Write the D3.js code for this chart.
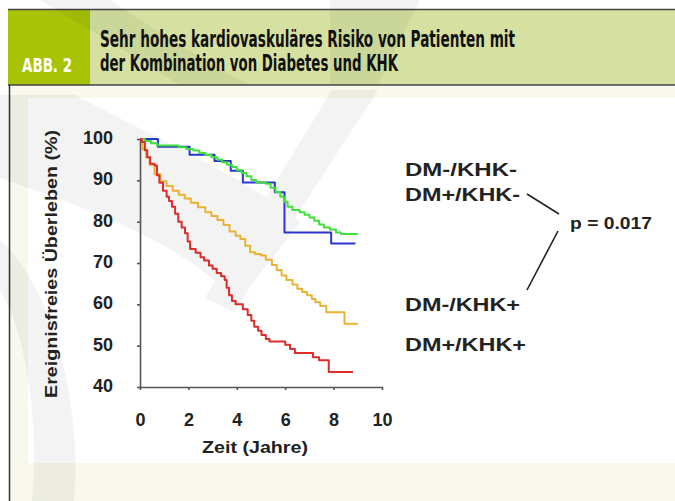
<!DOCTYPE html>
<html>
<head>
<meta charset="utf-8">
<script src="https://cdn.jsdelivr.net/npm/d3@7"></script>
<style>
  body { margin: 0; background: #fff; }
  svg { display: block; }
</style>
</head>
<body>
<svg id="fig" width="675" height="501"></svg>
<script>
// Kaplan-Meier Daten (Zeit in Jahren, ereignisfreies Überleben in %)
let blueT  = [0, 0.74, 2.05, 3.08, 3.75, 4.25, 5.57, 5.97, 7.9, 8.9];
let blueV  = [100, 98.1, 96.2, 94.7, 92.3, 89.5, 87.1, 77.4, 74.7, 74.7];

let greenT = [0, 0.2, 0.45, 0.7, 1.6, 1.9, 2.2, 2.45, 2.7, 2.95, 3.2, 3.4, 3.6, 3.8, 4.0, 4.2, 4.4, 4.6, 4.8, 5.2, 5.4, 5.6, 5.8, 5.95, 6.1, 6.3, 6.6, 6.8, 7.0, 7.2, 7.4, 7.6, 7.85, 8.1, 8.3, 9.0];
let greenV = [100, 99.5, 99.0, 98.4, 98.0, 97.6, 97.2, 96.6, 96.1, 95.6, 95.0, 94.4, 93.8, 93.2, 92.5, 91.8, 91.0, 90.1, 89.5, 89.2, 88.2, 87.2, 86.0, 84.8, 83.6, 82.8, 82.3, 81.7, 81.0, 80.2, 79.3, 78.6, 78.1, 77.4, 77.0, 77.0];

let orangeT = [0, 0.1, 0.25, 0.4, 0.6, 0.85, 1.1, 1.35, 1.6, 1.85, 2.1, 2.4, 2.7, 2.95, 3.2, 3.45, 3.7, 3.95, 4.15, 4.35, 4.55, 4.75, 5.0, 5.2, 5.45, 5.65, 5.85, 6.05, 6.3, 6.5, 6.7, 6.9, 7.1, 7.25, 7.45, 7.7, 8.45, 9.0];
let orangeV = [100, 97.5, 95.5, 93.8, 91.5, 89.8, 88.6, 87.5, 86.5, 85.6, 84.6, 83.5, 82.3, 81.4, 80.4, 79.2, 77.6, 76.6, 75.8, 74.2, 72.6, 72.2, 71.8, 70.8, 69.5, 68.3, 67.0, 65.9, 64.8, 63.8, 63.0, 62.2, 61.3, 60.5, 59.6, 58.1, 55.3, 55.3];

let redT = [0, 0.08, 0.2, 0.3, 0.42, 0.6, 0.7, 0.8, 0.95, 1.1, 1.2, 1.32, 1.45, 1.58, 1.72, 1.86, 1.97, 2.07, 2.3, 2.5, 2.65, 2.85, 3.0, 3.17, 3.35, 3.5, 3.58, 3.68, 3.8, 3.95, 4.25, 4.45, 4.6, 4.72, 4.88, 5.02, 5.2, 5.35, 6.0, 6.2, 6.4, 7.15, 7.4, 7.8, 8.8];
let redV = [100, 99.3, 97.3, 95.6, 94.0, 93.6, 91.2, 89.4, 87.5, 86.0, 85.0, 83.6, 81.9, 80.0, 78.6, 77.2, 75.2, 73.4, 72.5, 71.4, 70.6, 69.4, 68.6, 67.6, 66.8, 65.9, 64.0, 62.2, 60.8, 60.0, 58.8, 57.4, 56.0, 54.6, 53.6, 52.6, 51.6, 51.0, 50.2, 49.2, 48.2, 47.2, 46.5, 43.6, 43.6];

let xTicks = [0, 2, 4, 6, 8, 10];
let yTicks = [40, 50, 60, 70, 80, 90, 100];
let groupLabels = ["DM-/KHK-", "DM+/KHK-", "DM-/KHK+", "DM+/KHK+"];
let pLabel = "p = 0.017";

let series = [
  { t: blueT,   v: blueV,   color: "#2a35d0" },
  { t: greenT,  v: greenV,  color: "#3ee03a" },
  { t: orangeT, v: orangeV, color: "#e9b233" },
  { t: redT,    v: redV,    color: "#de2b2b" }
];

let svg = d3.select("#fig");
let txtFont = "'Liberation Sans', Arial, Helvetica, sans-serif";
let headFont = "'Liberation Sans Narrow', 'DejaVu Sans Condensed', 'Liberation Sans', sans-serif";

// Hintergrund und Rahmen
svg.append("rect").attr("x", 0).attr("y", 0).attr("width", 675).attr("height", 501).attr("fill", "#fff");
svg.append("rect").attr("x", 9).attr("y", 85).attr("width", 666).attr("height", 416).attr("fill", "#f8f9ec");
svg.append("rect").attr("x", 28).attr("y", 98).attr("width", 647).attr("height", 365).attr("fill", "#fff");

// Kopfzeile
svg.append("rect").attr("x", 8).attr("y", 10).attr("width", 667).attr("height", 75).attr("fill", "#d6e1a1");
svg.append("rect").attr("x", 8).attr("y", 10).attr("width", 82).attr("height", 75).attr("fill", "#a8c305");
svg.append("line").attr("x1", 8).attr("x2", 675).attr("y1", 9.5).attr("y2", 9.5).attr("stroke", "#444").attr("stroke-width", 1.5);
svg.append("line").attr("x1", 8).attr("x2", 675).attr("y1", 85).attr("y2", 85).attr("stroke", "#444").attr("stroke-width", 1.5);
svg.append("line").attr("x1", 9.5).attr("x2", 9.5).attr("y1", 85).attr("y2", 501).attr("stroke", "#333").attr("stroke-width", 1.5);

// Wasserzeichen (grob)
let wm = svg.append("g").attr("fill", "#000").attr("opacity", 0.045);
wm.append("path").attr("d", "M0,95 L75,95 C160,140 250,180 300,222 L236,305 C200,255 120,218 0,178 Z");
wm.append("path").attr("d", "M332,90 L378,90 L234,312 L205,298 Z");
wm.append("path").attr("d", "M0,240 C55,290 82,410 74,501 L32,501 C40,420 25,330 0,290 Z");
wm.append("path").attr("d", "M40,0 L110,0 C170,40 220,70 250,85 L180,85 C140,60 90,30 40,0 Z");
wm.append("path").attr("d", "M330,0 L420,0 L378,85 L330,85 Z");

// Titel
svg.append("text").attr("x", 22).attr("y", 72)
   .attr("font-family", headFont).attr("font-weight", "bold").attr("font-size", 20)
   .attr("fill", "#fff").attr("textLength", 50).attr("lengthAdjust", "spacingAndGlyphs")
   .text("ABB. 2");
svg.append("text").attr("x", 100).attr("y", 47)
   .attr("font-family", headFont).attr("font-weight", "bold").attr("font-size", 23)
   .attr("fill", "#111").attr("textLength", 415).attr("lengthAdjust", "spacingAndGlyphs")
   .text("Sehr hohes kardiovaskuläres Risiko von Patienten mit");
svg.append("text").attr("x", 100).attr("y", 71)
   .attr("font-family", headFont).attr("font-weight", "bold").attr("font-size", 23)
   .attr("fill", "#111").attr("textLength", 298).attr("lengthAdjust", "spacingAndGlyphs")
   .text("der Kombination von Diabetes und KHK");

// Skalen
let x = d3.scaleLinear().domain([0, 10]).range([140, 382]);
let y = d3.scaleLinear().domain([40, 100]).range([387, 139]);

let gx = svg.append("g").attr("transform", "translate(0,387)")
  .call(d3.axisBottom(x).tickValues(xTicks).tickSize(3).tickSizeOuter(0).tickPadding(23));
let gy = svg.append("g").attr("transform", "translate(140,0)")
  .call(d3.axisLeft(y).tickValues(yTicks).tickSize(3).tickSizeOuter(0).tickPadding(24));

[gx, gy].forEach(g => {
  g.select(".domain").attr("stroke", "#555").attr("stroke-width", 1.6);
  g.selectAll(".tick line").attr("stroke", "#555").attr("stroke-width", 1.6);
  g.selectAll("text").attr("font-family", txtFont).attr("font-weight", "bold")
    .attr("font-size", 18).attr("fill", "#222");
});
gy.selectAll(".tick text").attr("dy", "0.25em");

// Achsentitel
svg.append("text").attr("x", 255).attr("y", 453).attr("text-anchor", "middle")
   .attr("font-family", txtFont).attr("font-weight", "bold").attr("font-size", 17)
   .attr("fill", "#222").attr("textLength", 106).attr("lengthAdjust", "spacingAndGlyphs")
   .text("Zeit (Jahre)");
svg.append("text").attr("transform", "translate(57,264) rotate(-90)").attr("text-anchor", "middle")
   .attr("font-family", txtFont).attr("font-weight", "bold").attr("font-size", 17)
   .attr("fill", "#222").attr("textLength", 268).attr("lengthAdjust", "spacingAndGlyphs")
   .text("Ereignisfreies Überleben (%)");

// Kurven
let line = d3.line().curve(d3.curveStepAfter).x(d => x(d[0])).y(d => y(d[1]));
series.forEach(s => {
  svg.append("path")
     .datum(s.t.map((t, i) => [t, s.v[i]]))
     .attr("fill", "none")
     .attr("stroke", s.color)
     .attr("stroke-width", 2)
     .attr("stroke-linejoin", "round")
     .attr("d", line);
});

// Gruppenbeschriftung
let labelY = [176, 201, 311, 351];
let labelW = [112, 115, 115, 121];
groupLabels.forEach((t, i) => {
  svg.append("text").attr("x", 405).attr("y", labelY[i])
     .attr("font-family", txtFont).attr("font-weight", "bold").attr("font-size", 18)
     .attr("fill", "#222").attr("textLength", labelW[i]).attr("lengthAdjust", "spacingAndGlyphs")
     .text(t);
});
svg.append("text").attr("x", 570).attr("y", 229)
   .attr("font-family", txtFont).attr("font-weight", "bold").attr("font-size", 17)
   .attr("fill", "#222").attr("textLength", 82).attr("lengthAdjust", "spacingAndGlyphs")
   .text(pLabel);
svg.append("line").attr("x1", 527).attr("y1", 194).attr("x2", 559).attr("y2", 214)
   .attr("stroke", "#222").attr("stroke-width", 1.6);
svg.append("line").attr("x1", 558).attr("y1", 231).attr("x2", 527).attr("y2", 290)
   .attr("stroke", "#222").attr("stroke-width", 1.6);
</script>
</body>
</html>
